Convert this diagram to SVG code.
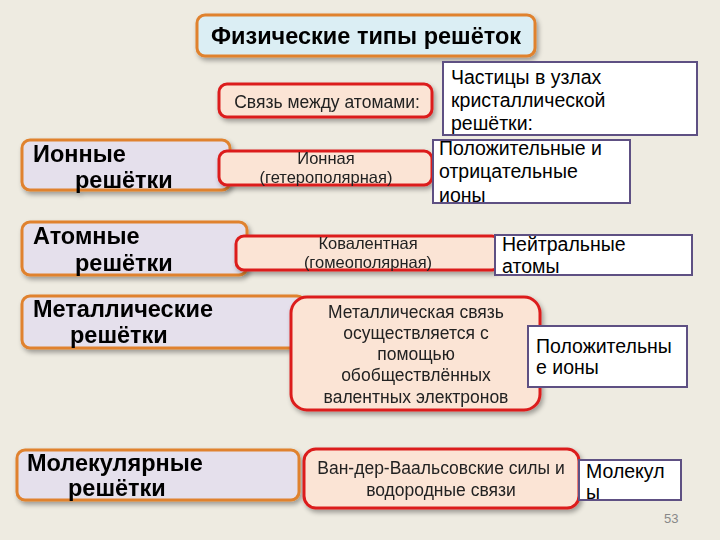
<svg xmlns="http://www.w3.org/2000/svg" width="720" height="540" viewBox="0 0 720 540">
<defs>
<filter id="sh" x="-10%" y="-20%" width="130%" height="150%">
<feGaussianBlur in="SourceAlpha" stdDeviation="2.5"/>
<feOffset dx="2" dy="3" result="b"/>
<feComponentTransfer><feFuncA type="linear" slope="0.35"/></feComponentTransfer>
<feMerge><feMergeNode/><feMergeNode in="SourceGraphic"/></feMerge>
</filter>
</defs>
<style>
.bg{fill:#EEEBE1}
.title{fill:#DBEEF4;stroke:#E0822E;stroke-width:3}
.cat{fill:#E5E0EC;stroke:#E0822E;stroke-width:3}
.bond{fill:#FBE4D5;stroke:#DC1E1E;stroke-width:3}
.part{fill:#FFFFFF;stroke:#5E5083;stroke-width:2}
text{font-family:"Liberation Sans",Arial,sans-serif;fill:#000}
.tt{font-size:23.5px;font-weight:bold;text-anchor:middle}
.ct{font-size:23.5px;font-weight:bold}
.bt{font-size:17.5px;text-anchor:middle;fill:#222}
.bs{font-size:16.5px}
.pt{font-size:19.5px}
.pn{font-size:13px;fill:#888}
</style>
<rect class="bg" x="0" y="0" width="720" height="540"/>

<g id="title" filter="url(#sh)">
<rect class="title" x="197" y="15" width="338" height="41" rx="8"/>
<text class="tt" x="366" y="44">Физические типы решёток</text>
</g>

<g id="bond-header" filter="url(#sh)">
<rect class="bond" x="219" y="84" width="213" height="33" rx="8"/>
<text class="bt" x="327" y="108">Связь между атомами:</text>
</g>

<g id="particles-header">
<rect class="part" x="443" y="62" width="254" height="73"/>
<text class="pt" x="451" y="84">Частицы в узлах</text>
<text class="pt" x="451" y="107">кристаллической</text>
<text class="pt" x="451" y="130">решётки:</text>
</g>

<g id="ionic-cat" filter="url(#sh)">
<rect class="cat" x="22" y="140" width="208" height="50" rx="8"/>
<text class="ct" x="33" y="162">Ионные</text>
<text class="ct" x="75" y="188">решётки</text>
</g>
<g id="ionic-bond" filter="url(#sh)">
<rect class="bond" x="219" y="151" width="213" height="34" rx="8"/>
<text class="bt bs" x="326" y="164">Ионная</text>
<text class="bt bs" x="326" y="183">(гетерополярная)</text>
</g>
<g id="ionic-part">
<rect class="part" x="433" y="140" width="197" height="63"/>
<text class="pt" x="439" y="155">Положительные и</text>
<text class="pt" x="439" y="178">отрицательные</text>
<text class="pt" x="439" y="202">ионы</text>
</g>

<g id="atomic-cat" filter="url(#sh)">
<rect class="cat" x="22" y="222" width="225" height="53" rx="8"/>
<text class="ct" x="33" y="244">Атомные</text>
<text class="ct" x="75" y="271">решётки</text>
</g>
<g id="atomic-bond" filter="url(#sh)">
<rect class="bond" x="236" y="236" width="264" height="34" rx="8"/>
<text class="bt bs" x="368" y="249">Ковалентная</text>
<text class="bt bs" x="368" y="268">(гомеополярная)</text>
</g>
<g id="atomic-part">
<rect class="part" x="495" y="235" width="197" height="40"/>
<text class="pt" x="502" y="251">Нейтральные</text>
<text class="pt" x="502" y="273">атомы</text>
</g>

<g id="metal-cat" filter="url(#sh)">
<rect class="cat" x="22" y="296" width="283" height="52" rx="8"/>
<text class="ct" x="33" y="317">Металлические</text>
<text class="ct" x="70" y="343">решётки</text>
</g>
<g id="metal-bond" filter="url(#sh)">
<rect class="bond" x="291" y="297" width="249" height="113" rx="16"/>
<text class="bt" x="416" y="318">Металлическая связь</text>
<text class="bt" x="416" y="339">осуществляется с</text>
<text class="bt" x="416" y="360">помощью</text>
<text class="bt" x="416" y="381">обобществлённых</text>
<text class="bt" x="416" y="403">валентных электронов</text>
</g>
<g id="metal-part">
<rect class="part" x="528" y="326" width="159" height="61"/>
<text class="pt" x="536" y="353">Положительны</text>
<text class="pt" x="536" y="374">е ионы</text>
</g>

<g id="mol-cat" filter="url(#sh)">
<rect class="cat" x="17" y="450" width="282" height="50" rx="8"/>
<text class="ct" x="27" y="471">Молекулярные</text>
<text class="ct" x="68" y="496">решётки</text>
</g>
<g id="mol-bond" filter="url(#sh)">
<rect class="bond" x="304" y="449" width="275" height="59" rx="12"/>
<text class="bt" x="441" y="474">Ван-дер-Ваальсовские силы и</text>
<text class="bt" x="441" y="496">водородные связи</text>
</g>
<g id="mol-part">
<rect class="part" x="579" y="460" width="102" height="40"/>
<text class="pt" x="586" y="478">Молекул</text>
<text class="pt" x="586" y="499">ы</text>
</g>

<g id="connectors"></g>

<text class="pn" x="664" y="523">53</text>
</svg>
